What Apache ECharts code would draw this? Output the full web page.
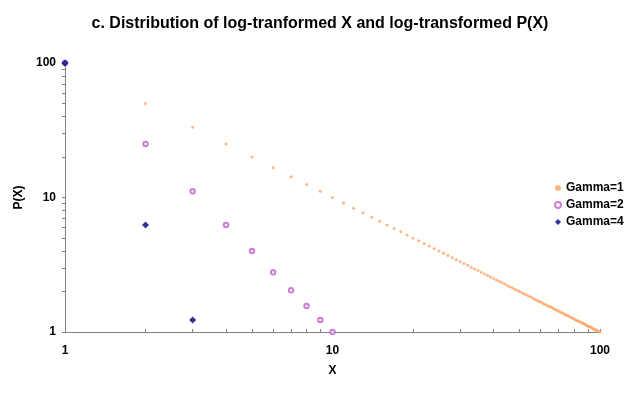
<!DOCTYPE html>
<html>
<head>
<meta charset="utf-8">
<script src="https://cdn.jsdelivr.net/npm/echarts@6/dist/echarts.min.js"></script>
<style>
  html, body { margin: 0; padding: 0; background: #fff; }
  #main { width: 640px; height: 393px; }
</style>
</head>
<body>
<div id="main"></div>
<script>
// values (log-log)
var gamma1X = [1, 2, 3, 4, 5, 6, 7, 8, 9, 10, 11, 12, 13, 14, 15, 16, 17, 18, 19, 20,
  21, 22, 23, 24, 25, 26, 27, 28, 29, 30, 31, 32, 33, 34, 35, 36, 37, 38, 39, 40,
  41, 42, 43, 44, 45, 46, 47, 48, 49, 50, 51, 52, 53, 54, 55, 56, 57, 58, 59, 60,
  61, 62, 63, 64, 65, 66, 67, 68, 69, 70, 71, 72, 73, 74, 75, 76, 77, 78, 79, 80,
  81, 82, 83, 84, 85, 86, 87, 88, 89, 90, 91, 92, 93, 94, 95, 96, 97, 98, 99, 100];
var gamma1P = [100, 50, 33.33, 25, 20, 16.67, 14.29, 12.5, 11.11, 10, 9.09, 8.33, 7.69, 7.14, 6.67, 6.25, 5.88, 5.56, 5.26, 5,
  4.76, 4.55, 4.35, 4.17, 4, 3.85, 3.7, 3.57, 3.45, 3.33, 3.23, 3.13, 3.03, 2.94, 2.86, 2.78, 2.7, 2.63, 2.56, 2.5,
  2.44, 2.38, 2.33, 2.27, 2.22, 2.17, 2.13, 2.08, 2.04, 2, 1.96, 1.92, 1.89, 1.85, 1.82, 1.79, 1.75, 1.72, 1.69, 1.67,
  1.64, 1.61, 1.59, 1.56, 1.54, 1.52, 1.49, 1.47, 1.45, 1.43, 1.41, 1.39, 1.37, 1.35, 1.33, 1.32, 1.3, 1.28, 1.27, 1.25,
  1.23, 1.22, 1.2, 1.19, 1.18, 1.16, 1.15, 1.14, 1.12, 1.11, 1.1, 1.09, 1.08, 1.06, 1.05, 1.04, 1.03, 1.02, 1.01, 1];

var gamma2X = [1, 2, 3, 4, 5, 6, 7, 8, 9, 10];
var gamma2P = [100, 25, 11.11, 6.25, 4, 2.78, 2.04, 1.56, 1.23, 1];

var gamma4X = [1, 2, 3];
var gamma4P = [100, 6.25, 1.23];

var axisTicks = [1, 2, 3, 4, 5, 6, 7, 8, 9, 10, 20, 30, 40, 50, 60, 70, 80, 90, 100];
var axisLabels = [1, 10, 100];

function pairs(xs, ys) {
  return xs.map(function (x, i) { return [x, ys[i]]; });
}

var font = 'Liberation Sans, Arial, sans-serif';
var chart = echarts.init(document.getElementById('main'));

chart.setOption({
  animation: false,
  backgroundColor: '#ffffff',
  title: {
    text: 'c. Distribution of log-tranformed X and log-transformed P(X)',
    left: 'center',
    top: 11,
    textStyle: { fontFamily: font, fontSize: 16, fontWeight: 'bold', color: '#000' }
  },
  legend: {
    orient: 'vertical',
    left: 549,
    top: 176,
    itemGap: 3,
    itemWidth: 6,
    itemHeight: 6,
    textStyle: { fontFamily: font, fontSize: 12, fontWeight: 'bold', color: '#000', lineHeight: 14 },
    data: ['Gamma=1', 'Gamma=2', 'Gamma=4']
  },
  grid: { left: 65, right: 40, top: 63, bottom: 61 },
  xAxis: {
    type: 'log',
    logBase: 10,
    min: 1,
    max: 100,
    name: 'X',
    nameLocation: 'middle',
    nameGap: 33,
    nameTextStyle: { fontFamily: font, fontSize: 12, fontWeight: 'bold', color: '#000' },
    axisLine: { lineStyle: { color: '#808080', width: 1 } },
    axisTick: { inside: true, length: 3, customValues: axisTicks, lineStyle: { color: '#808080' } },
    axisLabel: { customValues: axisLabels, fontFamily: font, fontSize: 12, fontWeight: 'bold', color: '#000', margin: 13 },
    splitLine: { show: false }
  },
  yAxis: {
    type: 'log',
    logBase: 10,
    min: 1,
    max: 100,
    name: 'P(X)',
    nameLocation: 'middle',
    nameGap: 35,
    nameTextStyle: { fontFamily: font, fontSize: 12, fontWeight: 'bold', color: '#000' },
    axisLine: { show: true, lineStyle: { color: '#808080', width: 1 } },
    axisTick: { show: true, length: 3, customValues: axisTicks, lineStyle: { color: '#808080' } },
    axisLabel: { customValues: axisLabels, fontFamily: font, fontSize: 12, fontWeight: 'bold', color: '#000', margin: 9 },
    splitLine: { show: false }
  },
  series: [
    {
      name: 'Gamma=1',
      type: 'scatter',
      symbol: 'circle',
      symbolSize: 3,
      itemStyle: { color: '#FFA366' },
      data: pairs(gamma1X, gamma1P)
    },
    {
      name: 'Gamma=2',
      type: 'scatter',
      symbol: 'emptyCircle',
      symbolSize: 4.5,
      itemStyle: { color: '#C060C8', borderColor: '#C060C8', borderWidth: 1 },
      data: pairs(gamma2X, gamma2P)
    },
    {
      name: 'Gamma=4',
      type: 'scatter',
      symbol: 'diamond',
      symbolSize: 7,
      z: 5,
      itemStyle: { color: '#000080' },
      data: pairs(gamma4X, gamma4P)
    }
  ]
});
</script>
</body>
</html>
